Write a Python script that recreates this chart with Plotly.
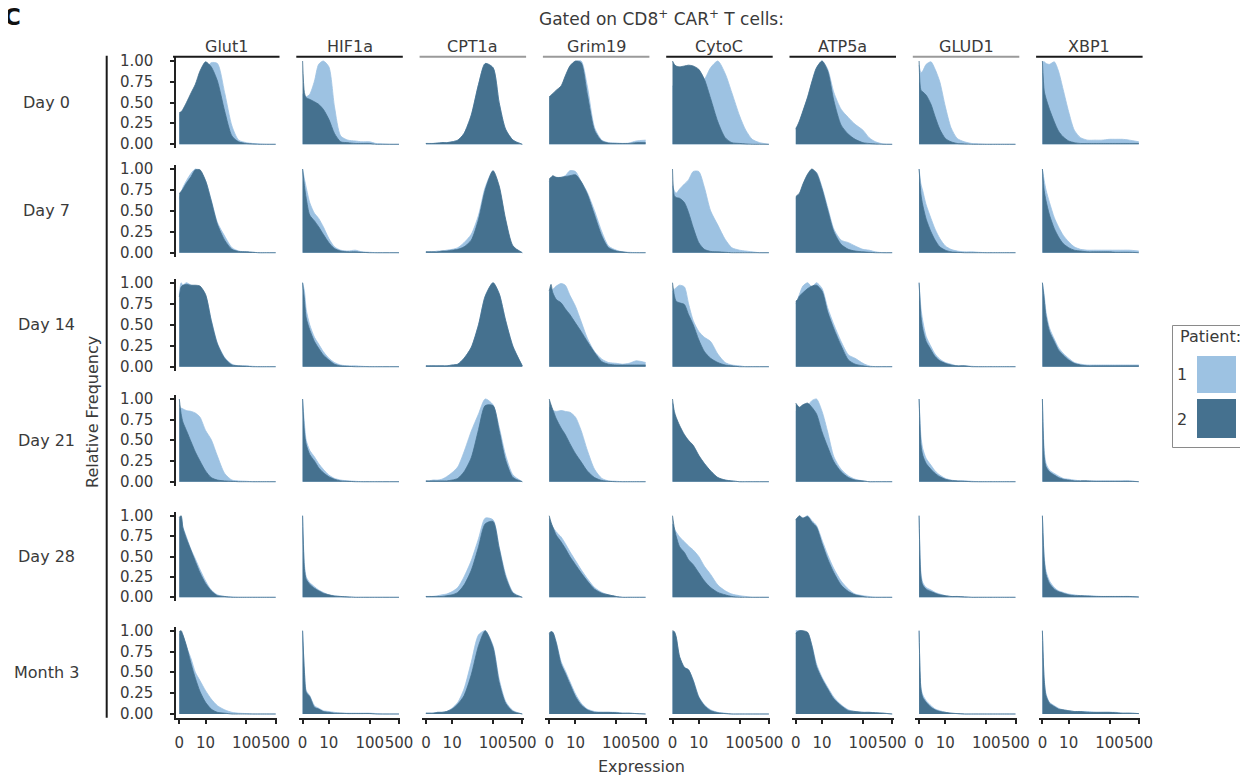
import numpy as np
import plotly.graph_objects as go

# ---------------- data ----------------
MARKERS = ["Glut1", "HIF1a", "CPT1a", "Grim19", "CytoC", "ATP5a", "GLUD1", "XBP1"]
TIMEPOINTS = ["Day 0", "Day 7", "Day 14", "Day 21", "Day 28", "Month 3"]
EXPR = [0, 0.5, 1, 2, 3.5, 5, 7, 10, 14, 20, 30, 45, 65, 100, 140, 200, 300, 500]
X_TICKS = [0, 10, 100, 500]
Y_TICKS = [0, 0.25, 0.5, 0.75, 1.0]
COFACTOR = 5.0

# relative frequency per timepoint (rows: Day 0 ... Month 3), values at EXPR
GLUT1_P1 = [
    [0.36, 0.37, 0.40, 0.48, 0.60, 0.70, 0.80, 0.90, 0.98, 0.97, 0.62, 0.22, 0.05, 0.02, 0.01, 0.005, 0, 0],
    [0.65, 0.72, 0.78, 0.86, 0.95, 1.0, 0.97, 0.86, 0.63, 0.36, 0.2, 0.06, 0.02, 0.01, 0.005, 0, 0, 0],
    [0.85, 1.0, 0.97, 1.0, 0.97, 0.96, 0.95, 0.85, 0.56, 0.28, 0.11, 0.03, 0.01, 0.01, 0.005, 0, 0, 0],
    [0.88, 0.89, 0.88, 0.86, 0.85, 0.83, 0.78, 0.62, 0.51, 0.31, 0.1, 0.02, 0.01, 0.005, 0, 0, 0, 0],
    [0.95, 0.98, 0.86, 0.74, 0.58, 0.47, 0.34, 0.2, 0.09, 0.03, 0.01, 0.005, 0, 0, 0, 0, 0, 0],
    [0.95, 0.98, 0.94, 0.81, 0.66, 0.5, 0.4, 0.28, 0.18, 0.1, 0.05, 0.02, 0.01, 0.005, 0, 0, 0, 0],
]
GLUT1_P2 = [
    [0.38, 0.39, 0.42, 0.50, 0.62, 0.72, 0.88, 0.99, 0.93, 0.76, 0.40, 0.10, 0.03, 0.01, 0.005, 0, 0, 0],
    [0.71, 0.73, 0.76, 0.83, 0.91, 0.99, 0.99, 0.86, 0.62, 0.34, 0.15, 0.04, 0.015, 0.01, 0.005, 0, 0, 0],
    [0.83, 0.95, 0.97, 0.98, 0.97, 0.97, 0.96, 0.86, 0.55, 0.27, 0.1, 0.02, 0.01, 0.005, 0, 0, 0, 0],
    [1.0, 0.82, 0.72, 0.62, 0.48, 0.36, 0.25, 0.13, 0.05, 0.02, 0.01, 0.005, 0, 0, 0, 0, 0, 0],
    [0.98, 1.0, 0.85, 0.72, 0.57, 0.44, 0.3, 0.17, 0.08, 0.02, 0.01, 0, 0, 0, 0, 0, 0, 0],
    [0.99, 1.0, 0.95, 0.82, 0.6, 0.43, 0.27, 0.14, 0.06, 0.02, 0.01, 0, 0, 0, 0, 0, 0, 0],
]
HIF1A_P1 = [
    [0.6, 0.58, 0.57, 0.6, 0.76, 0.96, 1.0, 0.93, 0.45, 0.10, 0.05, 0.04, 0.03, 0.03, 0.01, 0.005, 0, 0],
    [1.0, 0.88, 0.78, 0.6, 0.47, 0.41, 0.31, 0.17, 0.07, 0.03, 0.02, 0.03, 0.01, 0.005, 0, 0, 0, 0],
    [1.0, 0.9, 0.68, 0.5, 0.35, 0.27, 0.18, 0.1, 0.05, 0.02, 0.01, 0.01, 0.005, 0, 0, 0, 0, 0],
    [1.0, 0.7, 0.5, 0.38, 0.3, 0.22, 0.15, 0.08, 0.04, 0.02, 0.01, 0.005, 0, 0, 0, 0, 0, 0],
    [1.0, 0.4, 0.25, 0.18, 0.13, 0.09, 0.06, 0.03, 0.02, 0.01, 0.005, 0, 0, 0, 0, 0, 0, 0],
    [1.0, 0.52, 0.28, 0.22, 0.1, 0.07, 0.04, 0.03, 0.02, 0.01, 0.01, 0.01, 0.01, 0.01, 0.005, 0, 0, 0],
]
HIF1A_P2 = [
    [1.0, 0.62, 0.56, 0.54, 0.51, 0.48, 0.42, 0.3, 0.13, 0.03, 0.02, 0.01, 0.01, 0.01, 0, 0, 0, 0],
    [1.0, 0.8, 0.65, 0.45, 0.38, 0.31, 0.22, 0.12, 0.05, 0.02, 0.01, 0.01, 0.005, 0, 0, 0, 0, 0],
    [1.0, 0.8, 0.58, 0.44, 0.3, 0.22, 0.14, 0.08, 0.03, 0.01, 0.005, 0, 0, 0, 0, 0, 0, 0],
    [1.0, 0.6, 0.45, 0.33, 0.25, 0.17, 0.11, 0.06, 0.03, 0.01, 0.005, 0, 0, 0, 0, 0, 0, 0],
    [1.0, 0.35, 0.22, 0.16, 0.11, 0.08, 0.05, 0.03, 0.015, 0.01, 0.005, 0, 0, 0, 0, 0, 0, 0],
    [1.0, 0.5, 0.26, 0.21, 0.08, 0.06, 0.03, 0.02, 0.01, 0.01, 0.005, 0.005, 0.005, 0.005, 0, 0, 0, 0],
]
CPT1A_P1 = [
    [0.01, 0.01, 0.01, 0.01, 0.015, 0.02, 0.02, 0.03, 0.05, 0.13, 0.35, 0.72, 0.97, 0.92, 0.5, 0.18, 0.05, 0.0],
    [0.01, 0.01, 0.01, 0.01, 0.02, 0.02, 0.03, 0.04, 0.06, 0.12, 0.22, 0.45, 0.78, 0.98, 0.78, 0.38, 0.07, 0.0],
    [0.01, 0.01, 0.01, 0.01, 0.01, 0.01, 0.01, 0.02, 0.03, 0.1, 0.23, 0.5, 0.84, 1.0, 0.87, 0.55, 0.24, 0.01],
    [0.01, 0.01, 0.01, 0.02, 0.02, 0.03, 0.06, 0.11, 0.18, 0.36, 0.61, 0.82, 1.0, 0.93, 0.66, 0.32, 0.08, 0.0],
    [0.01, 0.01, 0.01, 0.01, 0.02, 0.03, 0.04, 0.07, 0.12, 0.25, 0.45, 0.72, 0.97, 0.95, 0.62, 0.28, 0.06, 0.0],
    [0.01, 0.01, 0.01, 0.01, 0.02, 0.02, 0.03, 0.07, 0.14, 0.3, 0.62, 0.95, 1.0, 0.82, 0.42, 0.15, 0.04, 0.0],
]
CPT1A_P2 = [
    [0.01, 0.01, 0.01, 0.01, 0.015, 0.02, 0.02, 0.03, 0.05, 0.13, 0.35, 0.72, 0.97, 0.92, 0.5, 0.18, 0.05, 0.0],
    [0.01, 0.01, 0.01, 0.01, 0.01, 0.02, 0.02, 0.03, 0.04, 0.07, 0.15, 0.4, 0.75, 0.98, 0.8, 0.4, 0.08, 0.0],
    [0.01, 0.01, 0.01, 0.01, 0.01, 0.01, 0.01, 0.02, 0.03, 0.1, 0.23, 0.5, 0.84, 1.0, 0.87, 0.55, 0.24, 0.01],
    [0.01, 0.01, 0.01, 0.01, 0.01, 0.01, 0.01, 0.02, 0.04, 0.12, 0.29, 0.63, 0.92, 0.92, 0.62, 0.26, 0.05, 0.0],
    [0.01, 0.01, 0.01, 0.01, 0.01, 0.01, 0.02, 0.03, 0.06, 0.15, 0.33, 0.62, 0.9, 0.93, 0.6, 0.25, 0.05, 0.0],
    [0.01, 0.01, 0.01, 0.01, 0.02, 0.02, 0.03, 0.06, 0.12, 0.22, 0.47, 0.82, 1.0, 0.8, 0.38, 0.13, 0.03, 0.0],
]
GRIM19_P1 = [
    [0.55, 0.57, 0.59, 0.63, 0.68, 0.8, 0.92, 0.99, 1.0, 0.7, 0.2, 0.05, 0.02, 0.015, 0.01, 0.015, 0.04, 0.05],
    [0.85, 0.88, 0.9, 0.9, 0.9, 0.92, 0.98, 0.97, 0.85, 0.72, 0.5, 0.25, 0.08, 0.03, 0.01, 0.005, 0, 0],
    [0.88, 0.9, 0.92, 0.96, 0.99, 0.97, 0.85, 0.72, 0.54, 0.34, 0.18, 0.09, 0.05, 0.04, 0.03, 0.04, 0.07, 0.05],
    [0.9, 0.88, 0.86, 0.85, 0.86, 0.85, 0.84, 0.78, 0.62, 0.38, 0.15, 0.04, 0.01, 0.005, 0, 0, 0, 0],
    [0.95, 0.9, 0.86, 0.8, 0.74, 0.66, 0.56, 0.45, 0.34, 0.23, 0.12, 0.06, 0.03, 0.01, 0, 0, 0, 0],
    [0.95, 0.98, 0.98, 0.86, 0.63, 0.52, 0.39, 0.24, 0.13, 0.06, 0.03, 0.02, 0.02, 0.02, 0.01, 0.01, 0.005, 0],
]
GRIM19_P2 = [
    [0.57, 0.59, 0.61, 0.65, 0.70, 0.82, 0.94, 1.0, 0.98, 0.6, 0.17, 0.04, 0.015, 0.01, 0.01, 0.01, 0.02, 0.02],
    [0.88, 0.9, 0.92, 0.9, 0.9, 0.91, 0.92, 0.93, 0.85, 0.7, 0.45, 0.2, 0.06, 0.02, 0.01, 0, 0, 0],
    [0.9, 0.98, 0.88, 0.8, 0.76, 0.69, 0.62, 0.52, 0.42, 0.3, 0.17, 0.06, 0.03, 0.02, 0.02, 0.02, 0.02, 0.02],
    [1.0, 0.93, 0.87, 0.76, 0.65, 0.57, 0.46, 0.34, 0.24, 0.13, 0.05, 0.015, 0.005, 0, 0, 0, 0, 0],
    [1.0, 0.92, 0.86, 0.76, 0.68, 0.6, 0.5, 0.4, 0.3, 0.2, 0.1, 0.05, 0.03, 0.01, 0, 0, 0, 0],
    [0.97, 0.99, 0.98, 0.85, 0.6, 0.49, 0.36, 0.21, 0.11, 0.05, 0.02, 0.02, 0.02, 0.015, 0.01, 0.01, 0.005, 0],
]
CYTOC_P1 = [
    [0.7, 0.7, 0.7, 0.7, 0.7, 0.7, 0.72, 0.74, 0.78, 0.92, 1.0, 0.85, 0.62, 0.34, 0.17, 0.06, 0.02, 0.0],
    [0.8, 0.74, 0.71, 0.76, 0.82, 0.87, 0.97, 0.97, 0.78, 0.5, 0.33, 0.16, 0.06, 0.03, 0.02, 0.01, 0, 0],
    [0.9, 0.92, 0.94, 0.97, 0.95, 0.75, 0.55, 0.42, 0.35, 0.3, 0.15, 0.05, 0.02, 0.01, 0, 0, 0, 0],
    [0.95, 0.83, 0.76, 0.67, 0.56, 0.49, 0.43, 0.31, 0.22, 0.13, 0.05, 0.02, 0.01, 0, 0, 0, 0, 0],
    [0.9, 0.84, 0.8, 0.74, 0.68, 0.63, 0.58, 0.5, 0.38, 0.28, 0.15, 0.08, 0.04, 0.02, 0.01, 0, 0, 0],
    [0.98, 0.98, 0.92, 0.68, 0.56, 0.53, 0.41, 0.21, 0.11, 0.05, 0.02, 0.01, 0, 0, 0, 0, 0, 0],
]
CYTOC_P2 = [
    [1.0, 0.96, 0.94, 0.93, 0.94, 0.95, 0.94, 0.9, 0.78, 0.55, 0.27, 0.08, 0.02, 0.01, 0.005, 0, 0, 0],
    [1.0, 0.68, 0.66, 0.65, 0.6, 0.48, 0.3, 0.12, 0.04, 0.015, 0.01, 0.005, 0, 0, 0, 0, 0, 0],
    [1.0, 0.85, 0.78, 0.76, 0.74, 0.62, 0.5, 0.32, 0.18, 0.1, 0.05, 0.02, 0.01, 0, 0, 0, 0, 0],
    [1.0, 0.85, 0.78, 0.68, 0.57, 0.5, 0.44, 0.32, 0.22, 0.13, 0.05, 0.02, 0.01, 0, 0, 0, 0, 0],
    [1.0, 0.85, 0.75, 0.62, 0.55, 0.46, 0.4, 0.3, 0.2, 0.12, 0.06, 0.03, 0.01, 0, 0, 0, 0, 0],
    [1.0, 0.99, 0.93, 0.69, 0.56, 0.53, 0.4, 0.2, 0.1, 0.04, 0.015, 0.005, 0, 0, 0, 0, 0, 0],
]
ATP5A_P1 = [
    [0.18, 0.22, 0.27, 0.39, 0.56, 0.74, 0.91, 1.0, 0.9, 0.62, 0.42, 0.32, 0.24, 0.17, 0.08, 0.03, 0.005, 0],
    [0.65, 0.67, 0.69, 0.8, 0.93, 0.99, 0.96, 0.78, 0.54, 0.28, 0.15, 0.12, 0.08, 0.04, 0.03, 0.01, 0, 0],
    [0.75, 0.8, 0.86, 0.96, 1.0, 0.95, 1.0, 0.93, 0.7, 0.5, 0.3, 0.14, 0.1, 0.04, 0.01, 0, 0, 0],
    [0.85, 0.85, 0.86, 0.88, 0.92, 0.98, 1.0, 0.85, 0.6, 0.3, 0.15, 0.07, 0.03, 0.01, 0, 0, 0, 0],
    [0.95, 0.97, 0.98, 0.97, 1.0, 0.94, 0.88, 0.7, 0.52, 0.35, 0.2, 0.1, 0.04, 0.02, 0.01, 0, 0, 0],
    [1.0, 1.0, 1.0, 0.99, 0.97, 0.83, 0.6, 0.44, 0.32, 0.2, 0.11, 0.05, 0.03, 0.02, 0.02, 0.015, 0.01, 0],
]
ATP5A_P2 = [
    [0.19, 0.23, 0.28, 0.4, 0.57, 0.75, 0.92, 1.0, 0.88, 0.52, 0.23, 0.12, 0.06, 0.02, 0.01, 0.005, 0, 0],
    [0.67, 0.69, 0.71, 0.82, 0.94, 1.0, 0.95, 0.76, 0.51, 0.25, 0.1, 0.04, 0.02, 0.01, 0.005, 0, 0, 0],
    [0.78, 0.8, 0.84, 0.88, 0.93, 0.96, 0.97, 0.9, 0.65, 0.45, 0.25, 0.08, 0.03, 0.01, 0, 0, 0, 0],
    [0.95, 0.92, 0.9, 0.93, 0.95, 0.9, 0.82, 0.6, 0.42, 0.24, 0.12, 0.05, 0.02, 0.01, 0, 0, 0, 0],
    [0.95, 0.98, 1.0, 0.97, 0.99, 0.92, 0.86, 0.66, 0.47, 0.3, 0.15, 0.07, 0.03, 0.01, 0, 0, 0, 0],
    [0.97, 0.99, 1.0, 1.0, 0.98, 0.82, 0.57, 0.42, 0.3, 0.18, 0.1, 0.04, 0.03, 0.02, 0.02, 0.015, 0.01, 0],
]
GLUD1_P1 = [
    [0.95, 0.86, 0.88, 0.96, 0.99, 0.9, 0.75, 0.45, 0.2, 0.07, 0.03, 0.01, 0.005, 0, 0, 0, 0, 0],
    [1.0, 0.82, 0.74, 0.57, 0.41, 0.28, 0.17, 0.08, 0.04, 0.02, 0.01, 0.01, 0.005, 0, 0, 0, 0, 0],
    [1.0, 0.7, 0.55, 0.36, 0.24, 0.15, 0.09, 0.05, 0.03, 0.01, 0.01, 0.005, 0, 0, 0, 0, 0, 0],
    [1.0, 0.55, 0.4, 0.28, 0.2, 0.13, 0.08, 0.04, 0.02, 0.01, 0.01, 0.005, 0, 0, 0, 0, 0, 0],
    [1.0, 0.3, 0.18, 0.12, 0.09, 0.06, 0.04, 0.02, 0.01, 0.01, 0.005, 0, 0, 0, 0, 0, 0, 0],
    [1.0, 0.32, 0.23, 0.16, 0.1, 0.06, 0.04, 0.02, 0.01, 0.005, 0, 0, 0, 0, 0, 0, 0, 0],
]
GLUD1_P2 = [
    [1.0, 0.65, 0.63, 0.59, 0.48, 0.33, 0.18, 0.07, 0.03, 0.01, 0.005, 0, 0, 0, 0, 0, 0, 0],
    [1.0, 0.7, 0.57, 0.4, 0.25, 0.15, 0.07, 0.03, 0.01, 0.005, 0, 0, 0, 0, 0, 0, 0, 0],
    [1.0, 0.6, 0.45, 0.3, 0.2, 0.12, 0.07, 0.04, 0.02, 0.01, 0.01, 0, 0, 0, 0, 0, 0, 0],
    [1.0, 0.45, 0.32, 0.22, 0.15, 0.1, 0.06, 0.03, 0.015, 0.01, 0.005, 0, 0, 0, 0, 0, 0, 0],
    [1.0, 0.25, 0.15, 0.1, 0.07, 0.05, 0.03, 0.02, 0.01, 0.01, 0.005, 0, 0, 0, 0, 0, 0, 0],
    [1.0, 0.3, 0.2, 0.14, 0.08, 0.05, 0.03, 0.02, 0.01, 0.005, 0, 0, 0, 0, 0, 0, 0, 0],
]
XBP1_P1 = [
    [0.99, 0.99, 0.97, 0.96, 0.99, 0.88, 0.66, 0.39, 0.17, 0.08, 0.05, 0.05, 0.05, 0.06, 0.06, 0.06, 0.05, 0.03],
    [1.0, 0.86, 0.75, 0.6, 0.42, 0.31, 0.21, 0.13, 0.07, 0.04, 0.03, 0.03, 0.03, 0.03, 0.03, 0.03, 0.03, 0.02],
    [1.0, 0.85, 0.65, 0.46, 0.33, 0.23, 0.16, 0.1, 0.05, 0.03, 0.02, 0.02, 0.02, 0.02, 0.02, 0.02, 0.02, 0.02],
    [1.0, 0.38, 0.22, 0.14, 0.1, 0.07, 0.04, 0.03, 0.02, 0.01, 0.01, 0.01, 0.01, 0.01, 0.01, 0.01, 0.01, 0],
    [1.0, 0.5, 0.32, 0.2, 0.12, 0.08, 0.06, 0.04, 0.03, 0.02, 0.02, 0.015, 0.01, 0.01, 0.01, 0.01, 0.01, 0.005],
    [1.0, 0.42, 0.24, 0.14, 0.1, 0.07, 0.05, 0.04, 0.03, 0.03, 0.03, 0.02, 0.02, 0.02, 0.02, 0.01, 0.01, 0.005],
]
XBP1_P2 = [
    [1.0, 0.64, 0.55, 0.42, 0.27, 0.16, 0.09, 0.04, 0.02, 0.01, 0.01, 0.01, 0.01, 0.01, 0.01, 0.01, 0.01, 0.01],
    [1.0, 0.74, 0.62, 0.45, 0.29, 0.19, 0.11, 0.06, 0.03, 0.02, 0.01, 0.01, 0.01, 0.01, 0.005, 0.005, 0.005, 0],
    [1.0, 0.8, 0.6, 0.42, 0.3, 0.2, 0.14, 0.08, 0.04, 0.02, 0.01, 0.01, 0.01, 0.01, 0.01, 0.01, 0.01, 0.01],
    [1.0, 0.3, 0.18, 0.12, 0.08, 0.05, 0.03, 0.02, 0.01, 0.01, 0.01, 0.005, 0.005, 0.005, 0.005, 0.005, 0.005, 0],
    [1.0, 0.45, 0.28, 0.17, 0.1, 0.07, 0.05, 0.03, 0.02, 0.02, 0.015, 0.01, 0.01, 0.01, 0.01, 0.01, 0.01, 0.005],
    [1.0, 0.4, 0.22, 0.13, 0.09, 0.06, 0.05, 0.04, 0.03, 0.03, 0.02, 0.02, 0.02, 0.02, 0.015, 0.01, 0.01, 0.005],
]

PATIENT1 = {"Glut1": GLUT1_P1, "HIF1a": HIF1A_P1, "CPT1a": CPT1A_P1, "Grim19": GRIM19_P1,
            "CytoC": CYTOC_P1, "ATP5a": ATP5A_P1, "GLUD1": GLUD1_P1, "XBP1": XBP1_P1}
PATIENT2 = {"Glut1": GLUT1_P2, "HIF1a": HIF1A_P2, "CPT1a": CPT1A_P2, "Grim19": GRIM19_P2,
            "CytoC": CYTOC_P2, "ATP5a": ATP5A_P2, "GLUD1": GLUD1_P2, "XBP1": XBP1_P2}

# ---------------- styling / layout ----------------
PAGE_W, PAGE_H = 1248, 777
BODY_MARGIN = 8          # default page margin around the plot div
W, H = PAGE_W - BODY_MARGIN, PAGE_H - BODY_MARGIN
LIGHT = "#9dc2e2"
DARK = "#45718f"
TXT = "#3a3a3a"
FONT = "DejaVu Sans"
STRIP_COLORS = ["#1a1a1a", "#1a1a1a", "#9a9a9a", "#9a9a9a", "#1a1a1a", "#1a1a1a", "#9a9a9a", "#1a1a1a"]

COL_X0 = [175.5 + 123.3 * i for i in range(8)]
PANEL_W = 101.5
ROW_TOP = [61, 169, 282.7, 399, 515.7, 630.7]      # page pixel of y=1
ROW_BOT = [144.3, 252.7, 366.7, 481.7, 597.3, 714]  # page pixel of y=0


def tr(v):
    return np.arcsinh(np.asarray(v, dtype=float) / COFACTOR)


XT = tr(EXPR)
XMAX = float(tr(500))
SCALE = 96.4 / XMAX
X_RANGE = [-3.8 / SCALE, XMAX + 1.3 / SCALE]


def px(x):
    return (x - BODY_MARGIN) / W


def py(y):
    return 1 - (y - BODY_MARGIN) / H


fig = go.Figure()
layout = dict(width=W, height=H, autosize=False,
              margin=dict(l=0, r=0, t=0, b=0, pad=0, autoexpand=False),
              paper_bgcolor="white", plot_bgcolor="white", showlegend=False,
              font=dict(family=FONT, color=TXT))

annotations = []
shapes = []

for r in range(6):
    span = ROW_BOT[r] - ROW_TOP[r]
    top = ROW_TOP[r] - 0.05 * span
    bot = ROW_BOT[r] + 0.05 * span
    for c, m in enumerate(MARKERS):
        k = r * 8 + c + 1
        sfx = "" if k == 1 else str(k)
        for series, col in ((PATIENT1[m][r], LIGHT), (PATIENT2[m][r], DARK)):
            fig.add_trace(go.Scatter(
                x=XT, y=series, mode="lines",
                line=dict(color=col, width=0.8, shape="spline", smoothing=0.7),
                fill="tozeroy", fillcolor=col,
                xaxis="x" + sfx, yaxis="y" + sfx, hoverinfo="skip", showlegend=False))
        bottom = r == 5
        xa = dict(domain=[px(COL_X0[c]), px(COL_X0[c] + PANEL_W)], range=X_RANGE,
                  anchor="y" + sfx, showgrid=False, zeroline=False, fixedrange=True, automargin=False,
                  showline=bottom, linecolor="#222", linewidth=1.5,
                  ticks="outside" if bottom else "", ticklen=4, tickwidth=1.5, tickcolor="#222",
                  tickmode="array", tickvals=list(tr(X_TICKS)), ticktext=[str(t) for t in X_TICKS],
                  tickangle=0, showticklabels=bottom,
                  tickfont=dict(size=15, color=TXT, family=FONT), ticklabelstandoff=6)
        first = c == 0
        ya = dict(domain=[py(bot), py(top)], range=[-0.05, 1.05], anchor="x" + sfx,
                  showgrid=False, zeroline=False, fixedrange=True, automargin=False,
                  showline=first, linecolor="#222", linewidth=1.5,
                  ticks="outside" if first else "", ticklen=4, tickwidth=1.5, tickcolor="#222",
                  tickmode="array", tickvals=Y_TICKS, showticklabels=False)
        layout["xaxis" + sfx] = xa
        layout["yaxis" + sfx] = ya
        if first:
            # y tick labels placed on the axis scale, right-aligned with a wider gap
            for t in Y_TICKS:
                annotations.append(dict(text="%.2f" % t, xref="paper", yref="y" + sfx,
                                        x=px(155), y=t, xanchor="right", yanchor="middle",
                                        showarrow=False,
                                        font=dict(size=15, color=TXT, family=FONT)))

# strips (column headers)
for c, m in enumerate(MARKERS):
    x0 = COL_X0[c] - 2.5
    x1 = COL_X0[c] + 104
    shapes.append(dict(type="line", xref="paper", yref="paper", x0=px(x0), x1=px(x1),
                       y0=py(56.7), y1=py(56.7), line=dict(color=STRIP_COLORS[c], width=2)))
    annotations.append(dict(text=m, xref="paper", yref="paper", x=px((x0 + x1) / 2), y=py(46),
                            xanchor="center", yanchor="middle", showarrow=False,
                            font=dict(size=16, color=TXT, family=FONT)))

# row labels
for r, t in enumerate(TIMEPOINTS):
    yc = (ROW_TOP[r] + ROW_BOT[r]) / 2
    annotations.append(dict(text=t, xref="paper", yref="paper", x=px(47), y=py(yc),
                            xanchor="center", yanchor="middle", showarrow=False,
                            font=dict(size=16, color=TXT, family=FONT)))

# vertical separator line for row labels
shapes.append(dict(type="line", xref="paper", yref="paper", x0=px(106.7), x1=px(106.7),
                   y0=py(55.7), y1=py(717.7), line=dict(color="#1a1a1a", width=2)))

# titles
annotations.append(dict(text="Gated on CD8<sup>+</sup> CAR<sup>+</sup> T cells:", xref="paper", yref="paper",
                        x=px(661), y=py(18), xanchor="center", yanchor="middle", showarrow=False,
                        font=dict(size=17, color=TXT, family=FONT)))
annotations.append(dict(text="Expression", xref="paper", yref="paper", x=px(641), y=py(766),
                        xanchor="center", yanchor="middle", showarrow=False,
                        font=dict(size=16, color=TXT, family=FONT)))
annotations.append(dict(text="Relative Frequency", xref="paper", yref="paper", x=px(93), y=py(412),
                        xanchor="center", yanchor="middle", showarrow=False, textangle=-90,
                        font=dict(size=16, color=TXT, family=FONT)))
# panel letter, partly cropped at the top-left corner as in the source
annotations.append(dict(text="<b>C</b>", xref="paper", yref="paper", x=px(12), y=py(17),
                        xanchor="center", yanchor="middle", showarrow=False,
                        font=dict(size=23, color="#111", family=FONT)))

# legend (drawn manually)
shapes.append(dict(type="rect", xref="paper", yref="paper", x0=px(1172.5), x1=px(1246.5),
                   y0=py(447.5), y1=py(325.5), line=dict(color="#8a8a8a", width=1), fillcolor="white",
                   layer="below"))
shapes.append(dict(type="rect", xref="paper", yref="paper", x0=px(1197), x1=px(1236),
                   y0=py(393), y1=py(356), line=dict(width=0), fillcolor=LIGHT))
shapes.append(dict(type="rect", xref="paper", yref="paper", x0=px(1197), x1=px(1236),
                   y0=py(438), y1=py(399), line=dict(width=0), fillcolor=DARK))
annotations.append(dict(text="Patient:", xref="paper", yref="paper", x=px(1210), y=py(336),
                        xanchor="center", yanchor="middle", showarrow=False,
                        font=dict(size=16, color=TXT, family=FONT)))
for lbl, yc in (("1", 374), ("2", 419)):
    annotations.append(dict(text=lbl, xref="paper", yref="paper", x=px(1182), y=py(yc),
                            xanchor="center", yanchor="middle", showarrow=False,
                            font=dict(size=16, color=TXT, family=FONT)))

layout["shapes"] = shapes
layout["annotations"] = annotations
fig.update_layout(**layout)
fig.write_html("out.html")
